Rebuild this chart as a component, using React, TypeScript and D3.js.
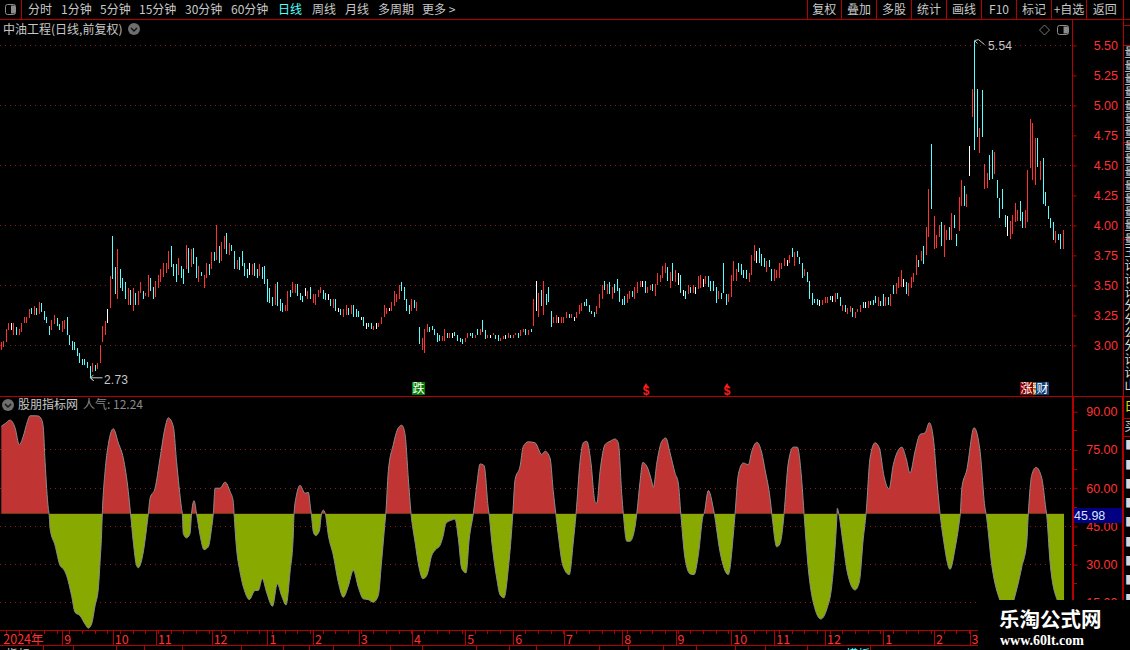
import { useRef, useEffect } from "react";
import * as d3 from "d3";

// daily high / low, left to right
const barHigh: number[] = [
  3.03,3.04,3.14,3.19,3.19,3.19,3.15,3.14,3.19,3.24,
  3.24,3.30,3.31,3.33,3.31,3.36,3.35,3.29,3.24,3.16,
  3.21,3.25,3.23,3.18,3.20,3.21,3.24,3.09,3.04,3.03,
  2.98,2.94,2.89,2.89,2.86,2.83,2.85,2.84,2.85,3.00,
  3.16,3.20,3.30,3.58,3.91,3.65,3.80,3.64,3.56,3.53,
  3.48,3.46,3.48,3.44,3.45,3.53,3.45,3.44,3.59,3.56,
  3.49,3.54,3.59,3.64,3.69,3.69,3.79,3.83,3.68,3.68,
  3.73,3.66,3.64,3.84,3.81,3.80,3.81,3.74,3.66,3.61,
  3.59,3.69,3.68,3.78,3.78,4.00,3.83,3.86,3.91,3.94,
  3.85,3.84,3.79,3.71,3.74,3.79,3.69,3.64,3.69,3.68,
  3.69,3.64,3.68,3.65,3.66,3.55,3.48,3.40,3.51,3.53,

  3.39,3.35,3.34,3.45,3.46,3.53,3.51,3.51,3.44,3.41,
  3.48,3.45,3.49,3.43,3.43,3.46,3.49,3.46,3.44,3.43,
  3.39,3.39,3.39,3.31,3.30,3.30,3.34,3.31,3.34,3.34,
  3.30,3.29,3.24,3.24,3.19,3.19,3.19,3.16,3.19,3.19,
  3.24,3.34,3.31,3.31,3.36,3.45,3.43,3.50,3.53,3.49,
  3.39,3.34,3.39,3.38,3.36,3.15,3.06,3.14,3.18,3.15,
  3.16,3.14,3.10,3.09,3.08,3.14,3.10,3.10,3.10,3.11,
  3.09,3.06,3.05,3.06,3.10,3.10,3.10,3.09,3.14,3.14,
  3.21,3.13,3.09,3.09,3.10,3.09,3.09,3.06,3.08,3.09,
  3.10,3.09,3.09,3.10,3.10,3.13,3.14,3.14,3.13,3.14,
  3.39,3.54,3.44,3.46,3.54,3.43,3.49,3.29,3.24,3.25,
  3.24,

  3.24,3.24,3.28,3.26,3.26,3.24,3.28,3.34,3.35,3.36,
  3.39,3.34,3.29,3.28,3.33,3.43,3.50,3.54,3.51,3.53,
  3.49,3.51,3.55,3.48,3.39,3.41,3.43,3.45,3.45,3.49,
  3.53,3.54,3.54,3.54,3.49,3.50,3.51,3.51,3.60,3.59,
  3.66,3.69,3.65,3.61,3.69,3.63,3.60,3.59,3.46,3.45,
  3.50,3.49,3.50,3.49,3.58,3.59,3.55,3.58,3.58,3.54,
  3.54,3.49,3.45,3.44,3.69,3.43,3.43,3.59,3.70,3.64,
  3.69,3.68,3.63,3.63,3.60,3.75,3.84,3.79,3.81,3.76,
  3.73,3.70,3.71,3.64,3.64,3.63,3.69,3.69,3.73,3.71,
  3.75,3.81,3.78,3.79,3.74,3.69,3.64,3.61,3.54,3.44,
  3.39,3.39,3.38,3.38,3.40,3.40,3.41,3.41,3.44,3.44,

  3.40,3.34,3.34,3.31,3.33,3.31,3.28,3.30,3.34,3.36,
  3.36,3.37,3.37,3.38,3.41,3.40,3.37,3.43,3.40,3.40,
  3.43,3.50,3.52,3.57,3.63,3.55,3.53,3.52,3.57,3.60,
  3.75,3.71,3.79,3.83,3.99,4.30,4.68,4.08,3.92,4.00,
  4.03,4.00,3.96,3.99,4.10,4.09,3.93,4.24,4.38,4.33,
  4.26,4.66,5.14,5.54,5.14,4.81,5.13,4.51,4.44,4.59,
  4.63,4.61,4.38,4.23,4.30,4.09,4.08,4.04,4.09,4.19,
  4.13,4.20,4.11,4.13,4.46,4.89,4.85,4.73,4.73,4.54,
  4.56,4.28,4.16,4.06,4.03,3.95,3.93,3.93,3.96,
];

const barLow: number[] = [
  2.96,2.99,3.03,3.13,3.13,3.09,3.09,3.09,3.11,3.19,
  3.19,3.23,3.26,3.25,3.25,3.26,3.28,3.21,3.19,3.09,
  3.13,3.18,3.16,3.13,3.11,3.14,3.09,3.00,2.96,2.96,
  2.91,2.85,2.84,2.84,2.81,2.73,2.78,2.79,2.80,2.85,
  3.03,3.09,3.19,3.31,3.55,3.43,3.39,3.48,3.45,3.39,
  3.34,3.34,3.29,3.34,3.34,3.44,3.39,3.41,3.40,3.45,
  3.39,3.40,3.48,3.53,3.57,3.60,3.64,3.65,3.58,3.53,
  3.59,3.56,3.51,3.64,3.60,3.65,3.68,3.56,3.53,3.58,
  3.48,3.56,3.59,3.64,3.70,3.71,3.69,3.70,3.80,3.76,
  3.75,3.79,3.64,3.64,3.63,3.66,3.58,3.56,3.59,3.59,
  3.58,3.56,3.58,3.55,3.51,3.36,3.35,3.33,3.34,3.33,

  3.29,3.28,3.29,3.29,3.40,3.44,3.44,3.41,3.38,3.36,
  3.41,3.39,3.39,3.35,3.34,3.40,3.44,3.39,3.38,3.38,
  3.33,3.31,3.29,3.28,3.25,3.24,3.25,3.25,3.26,3.24,
  3.24,3.24,3.21,3.16,3.14,3.15,3.14,3.13,3.14,3.15,
  3.18,3.24,3.26,3.29,3.29,3.33,3.36,3.39,3.45,3.38,
  3.29,3.26,3.29,3.31,3.29,3.01,2.96,2.94,3.11,3.11,
  3.13,3.09,3.03,3.04,3.04,3.04,3.06,3.06,3.06,3.08,
  3.04,3.03,3.01,3.03,3.06,3.08,3.06,3.06,3.09,3.09,
  3.11,3.05,3.06,3.06,3.09,3.05,3.04,3.04,3.05,3.05,
  3.06,3.06,3.06,3.09,3.06,3.08,3.11,3.09,3.09,3.11,
  3.16,3.29,3.24,3.33,3.25,3.34,3.36,3.15,3.19,3.19,
  3.19,

  3.19,3.19,3.23,3.23,3.23,3.20,3.23,3.26,3.29,3.33,
  3.33,3.28,3.26,3.24,3.26,3.31,3.39,3.46,3.43,3.43,
  3.39,3.44,3.45,3.36,3.34,3.34,3.35,3.39,3.40,3.39,
  3.44,3.49,3.49,3.44,3.44,3.46,3.45,3.41,3.50,3.53,
  3.56,3.60,3.54,3.48,3.54,3.53,3.50,3.44,3.41,3.39,
  3.43,3.44,3.44,3.43,3.47,3.48,3.49,3.51,3.49,3.45,
  3.45,3.35,3.39,3.39,3.44,3.34,3.36,3.40,3.54,3.54,
  3.61,3.59,3.56,3.55,3.53,3.59,3.70,3.69,3.69,3.66,
  3.65,3.61,3.65,3.54,3.54,3.56,3.56,3.64,3.66,3.66,
  3.69,3.74,3.66,3.74,3.68,3.56,3.58,3.53,3.39,3.34,
  3.35,3.34,3.33,3.34,3.35,3.35,3.38,3.36,3.36,3.39,

  3.33,3.29,3.28,3.26,3.28,3.24,3.23,3.28,3.28,3.31,
  3.31,3.31,3.34,3.34,3.35,3.33,3.33,3.33,3.33,3.34,
  3.33,3.43,3.43,3.48,3.49,3.49,3.43,3.41,3.48,3.53,
  3.59,3.65,3.70,3.68,3.75,3.90,4.14,3.80,3.81,3.90,
  3.83,3.74,3.88,3.88,3.88,3.98,3.83,3.95,4.16,4.16,
  4.15,4.41,4.90,4.63,4.74,4.60,4.74,4.30,4.31,4.38,
  4.39,4.43,4.23,4.06,4.14,3.99,3.91,3.89,3.93,4.03,
  4.04,4.04,3.98,3.98,4.03,4.48,4.38,4.34,4.49,4.38,
  4.18,4.16,4.05,3.98,3.88,3.85,3.88,3.80,3.80,
];

// R up, C down, W flat
const barKind: string =
  "RRRRWRCRRR" + "RRCRCRCCCC" + "RRCCRRCCCC" + "CCCCCCRCRR" + "RRWRCCRCCC" + "RCRCRRCRRC" +
  "CRRRRRRCCC" + "RCCRCRCCRC" + "RRCRCRCRRC" + "RCCRCCCCWR" + "CCRCCCCCRC" +
  "CCRRCRRCCC" + "WRCRRRRCCW" + "CRCWCRRCRC" + "CCWCWCCRWR" + "RRRWRRRRCC" + "CCRCRCRRRC" +
  "CCCCRRCRWC" + "CCCRRCCRCR" + "CCRWRCCRRW" + "RCRRCRRCRC" + "RWRCRCCCRR" + "W" +
  "RRRCRWRRRC" + "CCCCRRRCRC" + "RCCCCCRRCR" + "RRWCRRCRRR" + "RRCRCRWCWC" + "RCRWRRWRCC" +
  "CCRCCCRRRR" + "CCCCRRRWCC" + "CRCCRRRRRW" + "RCRCCCRCCC" + "CCWRRRCWRC" +
  "CRCRRCRRRC" + "WRCCCRCCRC" + "RCRRRWCRRR" + "RCRCRRCRRR" + "CRRCRCCRRC" + "RWRCCRCRRC" +
  "CRCCCCWRRR" + "RCCRRRRRCR" + "CCCCCRCCR";

// indicator curve: position along the time axis and its value
const indicatorAt: number[] = [
  0,1.5,3.5,5.5,7.2,8.8,10.1,11.5,13.5,14.8,16.1,16.8,17.5,18.8,19.1,19.5,21.5,23.5,24.8,26.1,
  28.1,29.5,31.5,33.5,34.8,36.1,37.5,38.8,39.5,40.1,40.4,41.5,42.8,44.8,46.8,48.8,50.8,51.7,52.8,54.1,
  54.8,56.8,58.1,58.8,59.5,61.5,63.5,65.5,66.8,68.8,70.1,72.1,72.4,72.8,74.1,75.5,76.1,77.1,78.1,79.5,
  81.1,82.8,84.1,84.8,85.5,87.5,89.5,91.5,92.8,93.1,94.1,95.5,97.5,99.2,101.5,102.8,104.4,106.1,108.5,110.4,
  112.1,113.9,115.5,116.8,117.1,118.1,119.5,121.5,122.8,123.7,124,124.8,125.7,127.2,128.1,128.8,129.6,130.8,132.8,134.8,
  136.8,138.8,140.8,142.8,144.8,146.8,148.8,150.8,152.1,153.5,153.8,154.8,156.8,158.8,160.2,161.5,162.8,163.9,165.5,167.2,
  168.6,170.2,172.2,173.5,175.5,176.8,177.8,180.2,181.5,182.8,184.2,185.9,187.2,188.8,190.2,191.5,193.1,194.8,195.1,196.2,
  198.2,199.5,201.1,202.8,204.2,204.6,205.5,207.5,208.8,210.8,213.5,216.2,217.5,219.5,220.8,221.8,222.8,224.6,227.2,228.8,
  229.9,231.5,232.8,234.2,235.8,237.5,238.2,239.5,241.5,243.5,245.5,246.8,248.2,248.8,250.2,251.5,253.1,254.2,255.5,256.6,
  258.2,260.2,260.8,262.2,264.2,265.8,267.5,269.5,270.8,271.8,273.5,275.5,277.1,278.8,280.8,281.1,282.8,284.8,285.2,287.5,
  290.8,292.8,293.5,294.8,296.8,298.8,300.2,302.2,304.2,305.5,307.5,308.2,310.2,311.5,312.8,313.1,314.8,316.8,318.4,320.2,
  321.1,322.8,325.5,327.8,330.2,332.2,334.2,334.4,335,336.8,338.4,341.5,343.2,344.8,345.9,347.5,349.5,351.2,353.1,355.1,
  356.8,360.2,361.9,363.5,365.5,367.5,369.5,371.2,372.8,374.4,375.5,376.8,379.5,381.5,383.2,383.6,384.2,386.2,389.1,391.5,
  393.5,393.9,396.2,399.5,402.8,406.2,408.2,410.2,410.8,412.2,413.9,416.2,417.8,418.1,419.5,422.2,425.1,
];

const indicatorValue: number[] = [
  84.3,85.3,86.7,83.7,77.1,80.4,85,88.4,88.4,88.3,87,83.7,70.5,52.1,50,44.2,37.6,29.7,28.4,25.8,
  17.9,11.3,10,6.7,5.1,6.7,13.9,20.5,31.1,41.6,50,66.6,77.1,83.3,77.8,71.8,58.7,50,38.9,29.7,
  28.8,35,44.2,50,56.1,60,71.8,83.7,87.6,84.3,70.5,52.1,50,42.2,40.5,42.2,50,55.1,50,41.6,
  35.9,37,44.2,50,60,60,62.4,58.7,54.7,50,36.3,27.1,19.2,16.3,19.9,19.9,24.5,19.2,13.7,22.5,
  17.9,14.2,27.1,41.6,50,57.4,61.1,58,58.4,52.1,50,42.9,41.4,43.2,50,51.4,50,41.6,33.7,23.2,
  17.2,21.6,27.8,21.2,16.6,16.3,15.3,17.9,31.1,46.8,50,66.6,77.1,83.7,84.7,81.1,63.9,50,38.9,28.4,
  24.5,25.8,33.7,35.7,37.6,41.6,46.2,47.5,47.9,40.3,28.4,26.8,40.3,50,61.3,69.5,68.9,52.1,50,38.9,
  24.5,18.2,17,28.4,44.2,50,63.3,68.6,76.4,78.2,77.8,73.2,74.5,71.8,58.7,50,41.6,29.7,26.1,38.9,
  50,70.5,77.8,78.4,70.5,54.7,54.1,66.6,77.1,78.4,79.3,77.8,57.4,50,39.2,39.2,42.9,50,62.6,70.1,
  68.6,62.6,60.3,69.9,78.4,79.7,73.8,65.9,62,50,32.4,26.4,26.1,33.7,49.5,50,59.1,52.1,50,35,
  26.1,41.6,50,65.3,69.9,69.2,74.5,78,73.8,67.2,56.1,50,37,38.3,46.8,50,69.9,76.1,76.1,62.6,
  50,28.4,12.6,8.7,12.6,21.8,48.2,52.1,50,37.6,27.1,20.1,23.2,40.3,50,71.8,77.8,75.8,64.6,59.7,
  69.2,76.1,71.8,65.9,74.5,81.1,81.7,85.7,79.7,61.3,50,40.3,28.2,36.3,46.8,50,60,67.2,83.7,74.5,
  52.1,50,29.7,15.9,11.3,20.5,29.1,38.9,50,65.3,68.2,63.9,52.1,50,31.1,16.6,12.6,
];

const priceTicks = [5.5, 5.25, 5, 4.75, 4.5, 4.25, 4, 3.75, 3.5, 3.25, 3];
const priceGrid = [5.5, 5, 4.5, 4, 3.5, 3];
const indicatorTicks = [90, 75, 60, 45, 30, 15];
const indicatorMinorTicks = [82.5, 67.5, 52.5, 37.5, 22.5];
const indicatorGrid = [75, 60, 45, 30, 15];
const indicatorBase = 50;
const indicatorLast = 45.98;
const indicatorPopularity = "12.24";

const monthBars = [0, 24, 44, 61, 83, 105, 123, 141, 162, 183, 202, 222, 245, 266, 288, 305, 325, 348, 368, 382];
const monthLabels = ["2024年", "9", "10", "11", "12", "1", "2", "3", "4", "5", "6", "7", "8", "9", "10", "11", "12", "1", "2", "3"];

const periodTabs = ["分时", "1分钟", "5分钟", "15分钟", "30分钟", "60分钟", "日线", "周线", "月线", "多周期", "更多 >"];
const periodTabX = [28, 61, 100, 139, 185, 231, 278, 312, 345, 378, 422];
const toolButtons = ["复权", "叠加", "多股", "统计", "画线", "F10", "标记", "+自选", "返回"];
const toolButtonEdges = [807, 841.5, 876.5, 911.5, 946.5, 981.5, 1016.5, 1051.5, 1086.5, 1123];

const railUpper = ["量", "量", "量", "量", "量", "量", "量", "量", "量", "量", "量", "量", "量", "量", "量", "王", "计", "计", "计", "分", "分", "公", "分", "计", "计", "山"];
const railLower = ["■", "■", "■", "■", "■", "■", "■", "■", "■"];
const bottomTabEdges = [43, 73, 116, 144, 182, 241, 283, 309, 333, 390, 422, 476, 509, 536, 599, 628, 663, 696, 735, 765, 807, 870];

const RED = "#b40000";
const AXIS_RED = "#ff3232";
const GRID = "#8c1c1c";
const GREY = "#c8c8c8";
const CJK = '"Noto Sans CJK SC", sans-serif';
const LATIN = '"Liberation Sans", sans-serif';

const chartRight = 1072.5;
const barColor: Record<string, string> = { R: "#ff3232", C: "#54ffff", W: "#ffffff" };

export default function App() {
  const svgRef = useRef<SVGSVGElement>(null);

  useEffect(() => {
    const svg = d3.select<SVGSVGElement, unknown>(svgRef.current as SVGSVGElement);
    svg.selectAll("*").remove();
    svg.append("rect").attr("width", 1130).attr("height", 650).attr("fill", "#000");

    const n = barHigh.length;
    const xScale = d3.scaleLinear().domain([0, n - 1]).range([1.3, 1063.3]);
    const indicatorX = d3.scaleLinear().domain([0, 425]).range([1.3, 1063.8]);
    const priceY = d3.scaleLinear().domain([3, 5.5]).range([345.4, 45.4]);
    const indY = d3.scaleLinear().domain([15, 90]).range([602.95, 411.7]);
    const snap = (v: number) => Math.floor(v) + 0.5;

    const hLine = (x1: number, x2: number, y: number, color = RED) =>
      svg.append("line").attr("x1", x1).attr("x2", x2).attr("y1", y).attr("y2", y)
        .attr("stroke", color).attr("shape-rendering", "crispEdges");
    const vLine = (x: number, y1: number, y2: number, color = RED) =>
      svg.append("line").attr("x1", x).attr("x2", x).attr("y1", y1).attr("y2", y2)
        .attr("stroke", color).attr("shape-rendering", "crispEdges");
    const label = (t: string, x: number, y: number, color = GREY, size = 12, family = CJK) =>
      svg.append("text").text(t).attr("x", x).attr("y", y).attr("dy", "0.36em")
        .attr("fill", color).style("font-size", `${size}px`).style("font-family", family);
    const chevron = (cx: number, cy: number) => {
      svg.append("circle").attr("cx", cx).attr("cy", cy).attr("r", 6).attr("fill", "#6e6e6e");
      svg.append("path").attr("d", d3.line()([[cx - 3, cy - 1], [cx, cy + 2], [cx + 3, cy - 1]]) as string)
        .attr("fill", "none").attr("stroke", "#111").attr("stroke-width", 1.4);
    };
    const panelIcon = (x: number, y: number, w: number, h: number) => {
      svg.append("rect").attr("x", x).attr("y", y).attr("width", w).attr("height", h).attr("rx", 2)
        .attr("fill", "none").attr("stroke", "#8c8c8c");
      svg.append("rect").attr("x", x + w * 0.55).attr("y", y + 1).attr("width", w * 0.4).attr("height", h - 2)
        .attr("fill", "#8c8c8c");
    };

    // toolbar
    hLine(0, 1130, 19.5);
    vLine(21.5, 0, 19);
    panelIcon(5.5, 4.5, 10, 10);
    periodTabs.forEach((t, i) => label(t, periodTabX[i], 9.5, t === "日线" ? "#54ffff" : GREY));
    toolButtonEdges.forEach(x => vLine(snap(x), 0, 19));
    toolButtons.forEach((t, i) =>
      label(t, (toolButtonEdges[i] + toolButtonEdges[i + 1]) / 2, 9.5).attr("text-anchor", "middle"));

    // price panel
    label("中油工程(日线,前复权)", 3, 29.5);
    chevron(134, 29);
    svg.append("path").attr("d", "M1044.5,25 L1049.5,30 L1044.5,35 L1039.5,30 Z").attr("fill", "none").attr("stroke", "#777");
    panelIcon(1057.5, 25.5, 11, 9);

    priceGrid.forEach(v => hLine(0, chartRight, snap(priceY(v)), GRID).attr("stroke-dasharray", "1 4"));

    const bars = svg.append("g").attr("shape-rendering", "crispEdges");
    bars.selectAll("line")
      .data(d3.range(n))
      .join("line")
      .attr("x1", i => snap(xScale(i)))
      .attr("x2", i => snap(xScale(i)))
      .attr("y1", i => priceY(barHigh[i]))
      .attr("y2", i => priceY(barLow[i]))
      .attr("stroke", i => barColor[barKind[i]]);

    // highest / lowest notes
    const peak = d3.maxIndex(barHigh);
    const trough = d3.minIndex(barLow);
    const peakX = snap(xScale(peak));
    const peakY = priceY(barHigh[peak]);
    svg.append("path")
      .attr("d", d3.line()([[peakX + 3, peakY + 3], [peakX, peakY], [peakX + 4, peakY - 1], [peakX + 10, peakY + 4]]) as string)
      .attr("fill", "none").attr("stroke", GREY);
    label(d3.format(".2f")(barHigh[peak]), peakX + 13.5, peakY + 5, GREY, 12, LATIN).style("letter-spacing", "0.2px");
    const troughX = snap(xScale(trough));
    const troughY = priceY(barLow[trough]);
    svg.append("path")
      .attr("d", d3.line()([[troughX + 3, troughY - 3], [troughX, troughY], [troughX + 3, troughY + 3], [troughX, troughY], [troughX + 12, troughY]]) as string)
      .attr("fill", "none").attr("stroke", GREY);
    label(d3.format(".2f")(barLow[trough]), troughX + 13.5, troughY + 2, GREY, 12, LATIN).style("letter-spacing", "0.2px");

    // event marks
    const tag = (t: string, x: number, w: number, fill: string) => {
      svg.append("rect").attr("x", x).attr("y", 382).attr("width", w).attr("height", 13).attr("fill", fill);
      label(t, x + 0.5, 388.5, "#fff", 12);
    };
    tag("跌", 412, 13, "#008000");
    tag("概", 1027, 13, "#8a5a00");
    tag("涨", 1020, 13, "#8b0000");
    tag("财", 1036, 13, "#0f3f78");
    [646, 727].forEach(x => {
      label("$", x, 391, "#ff1a1a", 12, LATIN).attr("text-anchor", "middle").style("font-weight", "bold");
      svg.append("path").attr("d", d3.symbol(d3.symbolTriangle, 12)() as string)
        .attr("transform", `translate(${x},386)`).attr("fill", "#ff1a1a");
    });

    // panel frame
    hLine(0, 1130, 396.5);
    vLine(chartRight, 19, 630);
    vLine(chartRight + 1, 397, 630);
    vLine(1123.5, 19, 630);
    vLine(1122.5, 397, 630);

    const priceAxis = d3.axisRight(priceY).tickValues(priceTicks).tickSize(4).tickFormat(d => d3.format(".2f")(d as number));
    const gPrice = svg.append("g").attr("transform", `translate(${chartRight},0)`).call(priceAxis);
    gPrice.select(".domain").remove();
    gPrice.selectAll("line").attr("stroke", RED);
    gPrice.selectAll("text").attr("x", 45.5).attr("text-anchor", "end").attr("fill", AXIS_RED)
      .style("font-size", "12.5px").style("font-family", LATIN);

    // indicator panel
    chevron(8, 405);
    label("股朋指标网", 18, 405, GREY, 12);
    label(`人气: ${indicatorPopularity}`, 83, 405, "#8a8a8a", 12);

    indicatorGrid.forEach(v => hLine(0, chartRight, snap(indY(v)), GRID).attr("stroke-dasharray", "1 4"));

    const points = indicatorAt.map((p, i) => [p, indicatorValue[i]] as [number, number]);
    const baseY = indY(indicatorBase);
    const area = d3.area<[number, number]>().curve(d3.curveMonotoneX)
      .x(d => indicatorX(d[0])).y0(baseY).y1(d => indY(d[1]));
    const defs = svg.append("defs");
    defs.append("clipPath").attr("id", "above").append("rect").attr("x", 0).attr("y", 397).attr("width", 1073).attr("height", baseY - 397);
    defs.append("clipPath").attr("id", "below").append("rect").attr("x", 0).attr("y", baseY).attr("width", 1073).attr("height", 630 - baseY);
    svg.append("path").attr("d", area(points) as string).attr("fill", "#c03434").attr("clip-path", "url(#above)");
    svg.append("path").attr("d", area(points) as string).attr("fill", "#88aa00").attr("clip-path", "url(#below)");
    svg.append("path")
      .attr("d", d3.line<[number, number]>().curve(d3.curveMonotoneX).x(d => indicatorX(d[0])).y(d => indY(d[1]))(points) as string)
      .attr("fill", "none").attr("stroke", "#8c8c8c").attr("stroke-width", 1);

    const indAxis = d3.axisRight(indY).tickValues(indicatorTicks).tickSize(4).tickFormat(d => d3.format(".2f")(d as number));
    const gInd = svg.append("g").attr("transform", `translate(${chartRight + 1},0)`).call(indAxis);
    gInd.select(".domain").remove();
    gInd.selectAll("line").attr("stroke", RED);
    gInd.selectAll("text").attr("x", 44).attr("text-anchor", "end").attr("fill", AXIS_RED)
      .style("font-size", "12.5px").style("font-family", LATIN);
    indicatorMinorTicks.forEach(v => hLine(chartRight + 1, chartRight + 4, snap(indY(v))));

    svg.append("rect").attr("x", 1074).attr("y", 508).attr("width", 48).attr("height", 15).attr("fill", "#000080");
    label(d3.format(".2f")(indicatorLast), 1074, 515.5, "#d8e4ff", 12.5, LATIN);

    // right rail
    [25, 45.5, 142, 239, 336].forEach(y => hLine(1123, 1130, snap(y)));
    [418, 436].forEach(y => hLine(1123, 1130, snap(y)));
    const railY = d3.scalePoint<number>().domain(d3.range(railUpper.length)).range([53, 386]);
    railUpper.forEach((t, i) => label(t, 1124.5, railY(i) as number, "#e0e0e0", 12));
    label("日", 1124.5, 407, "#e8e800", 12);
    label("买", 1124.5, 427, "#d8d8d8", 12);
    const lowerY = d3.scalePoint<number>().domain(d3.range(railLower.length)).range([446, 600]);
    railLower.forEach((t, i) => label(t, 1125, lowerY(i) as number, "#d8d8d8", 12));

    // time axis
    hLine(0, 978, 630.5);
    hLine(0, 978, 645.5);
    svg.append("g").attr("shape-rendering", "crispEdges").selectAll("line")
      .data(d3.range(2, n, 5))
      .join("line")
      .attr("x1", i => snap(xScale(i))).attr("x2", i => snap(xScale(i)))
      .attr("y1", 631).attr("y2", 634).attr("stroke", RED);
    const timeAxis = d3.axisBottom(xScale).tickValues(monthBars).tickSize(15)
      .tickFormat((_, i) => monthLabels[i]);
    const gTime = svg.append("g").attr("transform", "translate(0,630.5)").call(timeAxis);
    gTime.select(".domain").remove();
    gTime.selectAll("line").attr("stroke", RED).attr("shape-rendering", "crispEdges");
    gTime.selectAll(".tick").filter((_, i) => i === 0).select("line").remove();
    gTime.selectAll("text").attr("x", 1.5).attr("y", 2).attr("dy", "0.9em").attr("text-anchor", "start")
      .attr("fill", AXIS_RED).style("font-size", "12.5px").style("font-family", CJK);

    // bottom tabs, only their tops show
    bottomTabEdges.forEach(x => vLine(snap(x), 646, 650));
    label("指标", 6, 655, GREY, 12);
    label("模板", 846, 655, "#54ffff", 12);

    // watermark
    svg.append("rect").attr("x", 978).attr("y", 600).attr("width", 152).attr("height", 50).attr("fill", "#000");
    label("乐淘公式网", 999, 619.5, "#fff", 20.5).style("font-weight", "bold");
    label("www.60lt.com", 1000, 639.5, "#fff", 14, '"Liberation Serif", serif').style("font-weight", "bold");
  }, []);

  return (
    <>
      <style>{"body{margin:0;background:#000}"}</style>
      <svg ref={svgRef} width={1130} height={650} style={{ display: "block" }} />
    </>
  );
}
